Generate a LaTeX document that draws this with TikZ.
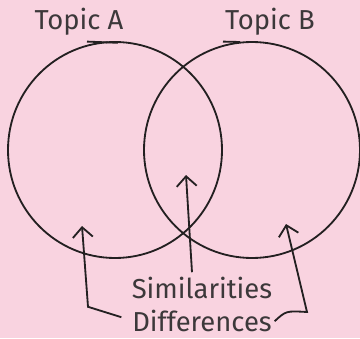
\documentclass[tikz,border=0pt]{standalone}
\usepackage{fontspec}
\setmainfont{Fira Sans}
\usetikzlibrary{arrows.meta}
\definecolor{bgpink}{RGB}{249,211,224}
\definecolor{ink}{RGB}{35,32,33}
\definecolor{txt}{RGB}{60,56,58}
\tikzset{
  label/.style={text=txt,font=\fontsize{19.5}{22}\selectfont,inner sep=0pt},
  pointer/.style={-{Straight Barb[length=2.5mm,width=5mm]},line width=1.3pt,ink}
}
\begin{document}
\begin{tikzpicture}[line width=1.3pt]
\fill[bgpink] (0.000,0.000) rectangle (9.000,8.450);
\useasboundingbox (0.000,0.000) rectangle (9.000,8.450);
% the two circles
\draw[ink] (2.875,4.700) ellipse [x radius=2.675,y radius=2.700];
\draw[ink] (6.300,4.700) ellipse [x radius=2.700,y radius=2.700];
\draw[ink] (2.175,7.410) -- (2.950,7.380);
\draw[ink] (5.575,7.410) -- (6.000,7.400);
% labels
\node[label] (topicA) at (1.975,7.900) {Topic A};
\node[label] (topicB) at (6.750,7.900) {Topic B};
\node[label] (sim) at (5.050,1.250) {Similarities};
\node[label] (diff) at (5.050,0.420) {Differences};
% arrow ends
\coordinate (tipS) at (4.650,4.075);
\coordinate (tipL) at (2.050,2.800);
\coordinate (tipR) at (7.150,2.850);
\draw[pointer] ([xshift=-0.250cm,yshift=0.100cm]sim.north) -- (tipS);
\draw[pointer] ([xshift=-0.250cm,yshift=0.100cm]diff.west) -- (2.200,0.780) -- (tipL);
\draw[pointer] ([xshift=0.050cm,yshift=0.000cm]diff.east) .. controls (7.150,0.680) .. (7.675,0.650) -- (tipR);
\end{tikzpicture}
\end{document}
